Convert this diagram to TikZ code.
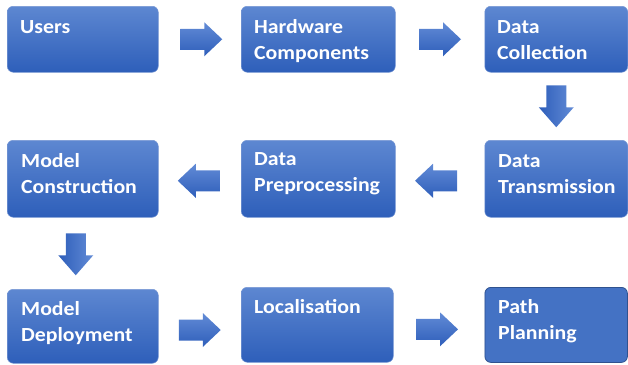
\documentclass[tikz,border=0pt]{standalone}
\usepackage{fontspec}
\setmainfont{Carlito}[FakeStretch=1.09]
\usetikzlibrary{calc}
\definecolor{boxtop}{RGB}{93,135,209}
\definecolor{boxbot}{RGB}{46,95,186}
\definecolor{boxline}{RGB}{120,152,212}
\definecolor{ppfill}{RGB}{68,114,196}
\definecolor{ppline}{RGB}{47,82,143}
\definecolor{arrtop}{RGB}{98,139,214}
\definecolor{arrbot}{RGB}{46,94,186}
\tikzset{
  box/.style={rounded corners=6pt, top color=boxtop, bottom color=boxbot, draw=boxline, line width=0.5pt, anchor=north west, inner sep=0pt},
  ppbox/.style={rounded corners=6pt, fill=ppfill, draw=ppline, line width=0.8pt, anchor=north west, inner sep=0pt},
  lbl/.style={anchor=north west, inner sep=0pt, align=left, text=white, font=\bfseries\fontsize{20}{26.5}\selectfont},
  hshade/.style={top color=arrtop, bottom color=arrbot, draw=none},
  vshade/.style={left color=arrbot, right color=arrtop, draw=none},
  rarrow/.pic={\path[hshade] (-21,-10.5) -- (3,-10.5) -- (3,-17) -- (21,0) -- (3,17) -- (3,10.5) -- (-21,10.5) -- cycle;},
  larrow/.pic={\path[hshade] (21,-10.5) -- (-3,-10.5) -- (-3,-17) -- (-21,0) -- (-3,17) -- (-3,10.5) -- (21,10.5) -- cycle;},
  darrow/.pic={\path[vshade] (-10,-21) -- (-10,1) -- (-17.5,1) -- (0,21) -- (17.5,1) -- (10,1) -- (10,-21) -- cycle;},
}
\newcommand{\st}{\rule{0pt}{16pt}}
\begin{document}
\begin{tikzpicture}[x=1pt,y=-1pt]
\useasboundingbox (0,0) rectangle (628,364);
% boxes
\node[box, minimum width=151pt, minimum height=66pt] (users) at (7,6) {};
\node[box, minimum width=154pt, minimum height=66pt] (hw) at (241,6) {};
\node[box, minimum width=143pt, minimum height=66pt] (dc) at (484.5,6) {};
\node[box, minimum width=151pt, minimum height=77pt] (mc) at (7,140) {};
\node[box, minimum width=154pt, minimum height=77pt] (dp) at (241,140) {};
\node[box, minimum width=143pt, minimum height=77pt] (dt) at (484.5,140) {};
\node[box, minimum width=151pt, minimum height=74pt] (md) at (7,289) {};
\node[box, minimum width=152pt, minimum height=75pt] (loc) at (241,287) {};
\node[ppbox, minimum width=142.5pt, minimum height=75pt] (pp) at (484.5,287) {};
% labels
\node[lbl] (tusers) at (20,17) {\st Users};
\node[lbl] (thw) at (254,17) {\st Hardware\\Components};
\node[lbl] (tdc) at (497,17) {\st Data\\Collection};
\node[lbl] (tmc) at (21,151) {\st Model\\Construction};
\node[lbl] (tdp) at (254,149) {\st Data\\Preprocessing};
\node[lbl] (tdt) at (498,151) {\st Data\\Transmission};
\node[lbl] (tmd) at (21,299) {\st Model\\Deployment};
\node[lbl] (tloc) at (254,297) {\st Localisation};
\node[lbl] (tpp) at (498,297) {\st Path\\Planning};
% arrow anchors between boxes
\coordinate (c1) at ($(users.east)!0.5!(hw.west)+(1.5,0)$);
\coordinate (c2) at ($(hw.east)!0.5!(dc.west)$);
\coordinate (c3) at ($(dc.south)!0.5!(dt.north)$);
\coordinate (c4) at ($(dt.west)!0.5!(dp.east)+(-4,2)$);
\coordinate (c5) at ($(dp.west)!0.5!(mc.east)+(-1,2)$);
\coordinate (c6) at ($(mc.south)!0.5!(md.north)+(-7,1)$);
\coordinate (c7) at ($(md.east)!0.5!(loc.west)$);
\coordinate (c8) at ($(loc.east)!0.5!(pp.west)+(-2,0)$);
\pic at ($(c1)$) {rarrow};
\pic at ($(c2)$) {rarrow};
\pic at ($(c3)$) {darrow};
\pic at ($(c4)$) {larrow};
\pic at ($(c5)$) {larrow};
\pic at ($(c6)$) {darrow};
\pic at ($(c7)+(0,4.5)$) {rarrow};
\pic at ($(c8)+(0,4.5)$) {rarrow};
\end{tikzpicture}
\end{document}
